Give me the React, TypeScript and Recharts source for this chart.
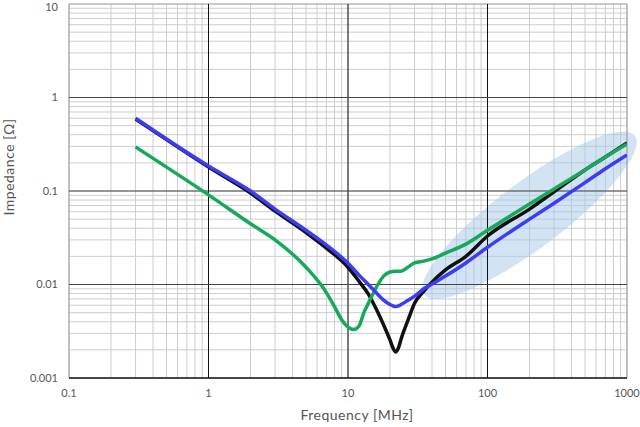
import { LineChart, Line, XAxis, YAxis, CartesianGrid, ReferenceLine, ReferenceDot } from 'recharts';

// frequency in MHz, impedance in ohm
const freqs = [0.3, 0.5, 1, 2, 3, 5, 7, 10, 12, 14, 16, 18, 20, 21, 22, 23, 24, 27, 30, 35, 40, 50, 70, 100, 200, 300, 500, 700, 1000];
const blackZ = [0.59, 0.354, 0.18, 0.095, 0.061, 0.036, 0.0245, 0.0153, 0.0108, 0.0079, 0.0054, 0.0037, 0.00255, 0.0021, 0.0019, 0.0021, 0.0026, 0.0042, 0.0063, 0.0085, 0.0106, 0.0143, 0.02, 0.033, 0.064, 0.098, 0.168, 0.231, 0.326];
const blueZ = [0.6, 0.36, 0.185, 0.1, 0.064, 0.038, 0.0264, 0.0169, 0.0126, 0.01, 0.0081, 0.0068, 0.0061, 0.0059, 0.0058, 0.0059, 0.0061, 0.0068, 0.0075, 0.009, 0.0101, 0.0123, 0.017, 0.025, 0.05, 0.074, 0.123, 0.173, 0.243];

const greenFreqs = [0.3, 0.5, 1, 2, 3, 5, 7, 8, 9, 10, 11, 12, 13, 14, 16, 18, 20, 22, 24, 27, 30, 35, 40, 50, 70, 100, 200, 300, 500, 700, 1000];
const greenZ = [0.296, 0.18, 0.091, 0.0447, 0.03, 0.0153, 0.0082, 0.0058, 0.0042, 0.0035, 0.0033, 0.0036, 0.005, 0.0063, 0.0094, 0.0123, 0.0136, 0.0139, 0.0139, 0.0154, 0.017, 0.0178, 0.0188, 0.0217, 0.027, 0.038, 0.0727, 0.105, 0.168, 0.231, 0.318];

const xDecades = [0.1, 1, 10, 100, 1000];
const yDecades = [0.001, 0.01, 0.1, 1, 10];
const xLabels = ['0.1', '1', '10', '100', '1000'];
const yLabels = ['0.001', '0.01', '0.1', '1', '10'];

// minor grid positions: 1..9 times each decade
const minorTicks = (decades: number[]) => {
  const out: number[] = [];
  decades.forEach((d, i) => {
    if (i === decades.length - 1) { out.push(d); return; }
    for (let k = 1; k <= 9; k++) out.push(+(d * k).toPrecision(3));
  });
  return out;
};
const xTicks = minorTicks(xDecades);
const yTicks = minorTicks(yDecades);

const toPoints = (fs: number[], zs: number[]) => fs.map((f, i) => ({ f, z: zs[i] }));
const blackData = toPoints(freqs, blackZ);
const blueData = toPoints(freqs, blueZ);
const greenData = toPoints(greenFreqs, greenZ);

const labelFor = (v: number, decades: number[], labels: string[]) => {
  const i = decades.findIndex((d) => Math.abs(d - v) / d < 1e-6);
  return i >= 0 ? labels[i] : '';
};

const font = 'Lato, "Open Sans", sans-serif';
const tickStyle = { fill: '#555', fontSize: 11, fontFamily: font };

// top label would be cut by the page edge, keep it just inside
const YTick = (props: any) => {
  const { x, y, payload } = props;
  const text = labelFor(payload.value, yDecades, yLabels);
  if (!text) return null;
  return (
    <text x={x} y={Math.max(y, 7)} dy="0.355em" textAnchor="end" {...tickStyle}>
      {text}
    </text>
  );
};

export default function App() {
  return (
    <div style={{ position: 'absolute', left: 0, top: 0, width: 640, height: 427, background: '#fff' }}>
      <LineChart width={640} height={427} margin={{ top: 4, right: 13, left: 0, bottom: 0 }}>
        <CartesianGrid stroke="#cdcdcd" strokeWidth={1} />
        <XAxis
          dataKey="f"
          type="number"
          scale="log"
          domain={[0.1, 1000]}
          allowDataOverflow
          ticks={xTicks}
          interval={0}
          tickFormatter={(v) => labelFor(v, xDecades, xLabels)}
          axisLine={false}
          tickLine={false}
          tickSize={0}
          tickMargin={11}
          height={49}
          tick={tickStyle}
        />
        <YAxis
          type="number"
          scale="log"
          domain={[0.001, 10]}
          allowDataOverflow
          ticks={yTicks}
          interval={0}
          axisLine={false}
          tickLine={false}
          tickSize={0}
          tickMargin={11}
          width={69}
          tick={<YTick />}
        />
        <ReferenceLine x={0.1} stroke="#999" />
        <ReferenceLine x={1000} stroke="#999" />
        <ReferenceLine y={10} stroke="#aaa" />
        <ReferenceLine x={1} stroke="#111" />
        <ReferenceLine x={10} stroke="#111" />
        <ReferenceLine x={100} stroke="#111" />
        <ReferenceLine y={1} stroke="#444" />
        <ReferenceLine y={0.1} stroke="#444" />
        <ReferenceLine y={0.01} stroke="#444" />
        <ReferenceLine y={0.001} stroke="#111" strokeWidth={1.5} />
        <ReferenceDot
          x={200}
          y={0.055}
          zIndex={50}
          shape={(p: any) => (
            <ellipse
              cx={p.cx}
              cy={p.cy}
              rx={132}
              ry={33}
              transform={`rotate(-37 ${p.cx} ${p.cy})`}
              fill="#a6c8ea"
              fillOpacity={0.5}
            />
          )}
        />
        <Line data={blackData} dataKey="z" type="monotone" stroke="#111111" strokeWidth={3.5} dot={false} isAnimationActive={false} />
        <Line data={greenData} dataKey="z" type="monotone" stroke="#17a85c" strokeWidth={3.5} dot={false} isAnimationActive={false} />
        <Line data={blueData} dataKey="z" type="monotone" stroke="#3c3cf2" strokeWidth={3.5} dot={false} isAnimationActive={false} />
      </LineChart>
      <svg width={640} height={427} style={{ position: 'absolute', left: 0, top: 0, pointerEvents: 'none' }}>
        <text x={357} y={420} textAnchor="middle" fill="#555" fontSize={14} fontFamily={font} letterSpacing={0.5}>
          Frequency [MHz]
        </text>
        <text x={14} y={167} textAnchor="middle" fill="#555" fontSize={14} fontFamily={font} transform="rotate(-90 14 167)" letterSpacing={0.5}>
          Impedance [Ω]
        </text>
      </svg>
    </div>
  );
}
